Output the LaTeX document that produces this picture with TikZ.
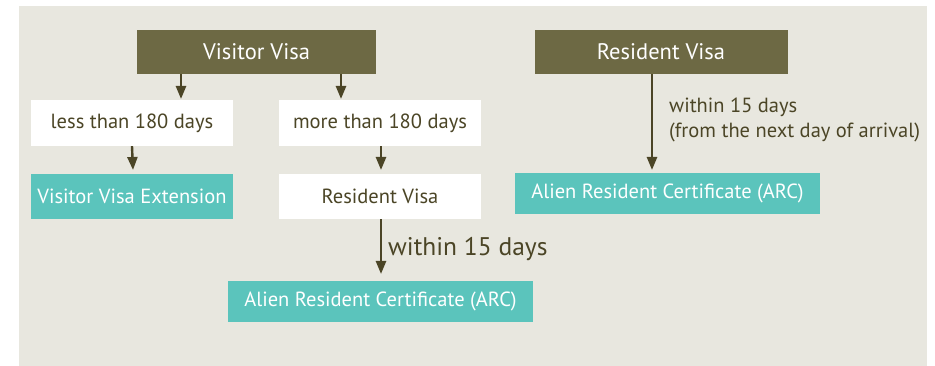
\documentclass[tikz,border=0pt]{standalone}
\usepackage{fontspec}
\setmainfont{PT Sans}
\usetikzlibrary{arrows.meta}
\definecolor{panel}{HTML}{E8E7DF}
\definecolor{olive}{HTML}{6D6944}
\definecolor{teal2}{HTML}{5BC4BC}
\definecolor{dark}{HTML}{4B4526}
\begin{document}
\begin{tikzpicture}[x=1pt,y=-1pt,
  box/.style={inner sep=0pt, minimum width=#1, font=\fontsize{20.5}{24}\selectfont},
  olivebox/.style={box=#1, fill=olive, text=white, minimum height=44pt, font=\fontsize{22.5}{26}\selectfont},
  whitebox/.style={box=#1, fill=white, text=dark, minimum height=46pt},
  tealbox/.style={box=#1, fill=teal2, text=white, minimum height=45pt},
  arr/.style={draw=dark, line width=2.4pt, -{Triangle[length=13pt,width=10pt]}},
  lbl/.style={text=dark, inner sep=0pt, font=\fontsize{20.5}{24}\selectfont}]
\useasboundingbox (0,0) rectangle (935,366);
\fill[white] (0,0) rectangle (935,366);
\fill[panel] (19,6) rectangle (927,366);
\node[olivebox=239pt] (vv) at (256.5,52) {Visitor Visa};
\node[olivebox=253pt] (rv) at (661,52) {Resident Visa};
\node[whitebox=202pt] (less) at (132,123) {less than 180 days};
\node[whitebox=202pt] (more) at (380,123) {more than 180 days};
\node[tealbox=202pt] (ext) at (132,196.5) {Visitor Visa Extension};
\node[whitebox=202pt, minimum height=45pt] (rv2) at (380,196.5) {Resident Visa};
\node[tealbox=305pt, minimum height=41pt] (arc1) at (380.5,301.5) {Alien Resident Certificate (ARC)};
\node[tealbox=305pt, minimum height=41pt] (arc2) at (667.5,193.5) {Alien Resident Certificate (ARC)};
\draw[arr] (vv.south -| 181,0) -- (181,99);
\draw[arr] (vv.south -| 341,0) -- (341,99);
\draw[arr] (less.south) -- (133,170);
\draw[arr] (more.south -| 381,0) -- (381,170);
\draw[arr] (rv2.south -| 381,0) -- (381,274) coordinate (a1);
\draw[arr] (rv.south -| 652,0) -- (652,170) coordinate (a2);
\node[lbl, anchor=west, font=\fontsize{25.5}{30}\selectfont] (w1) at (388,249) {within 15 days};
\node[lbl, anchor=west] (w2) at (669,107) {within 15 days};
\node[lbl, anchor=west] (w3) at (669,132) {(from the next day of arrival)};
\end{tikzpicture}
\end{document}
